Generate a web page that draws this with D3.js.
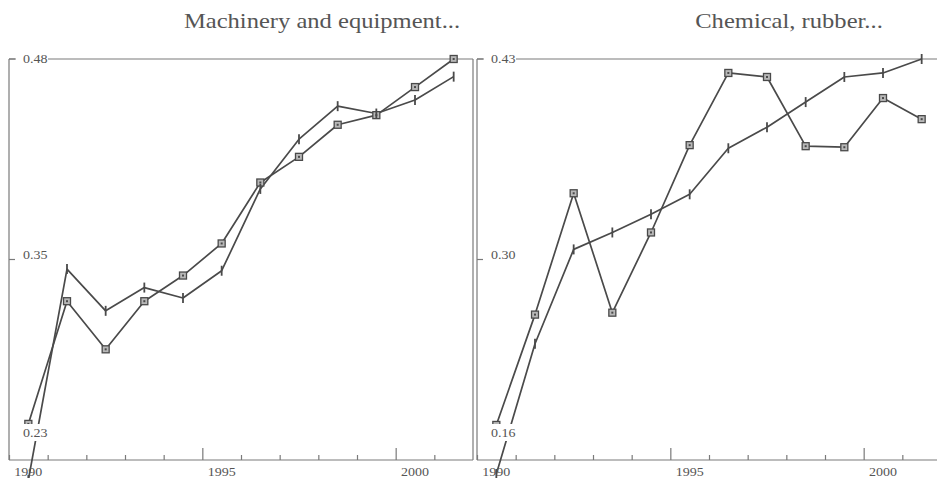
<!DOCTYPE html>
<html>
<head>
<meta charset="utf-8">
<script src="https://cdn.jsdelivr.net/npm/d3@7"></script>
<style>
  body { margin: 0; background: #fff; }
  svg { display: block; }
  text { font-family: "Liberation Serif", "DejaVu Serif", serif; fill: #555; }
</style>
</head>
<body>
<svg id="chart" width="937" height="478"></svg>
<script>
// Annual shares, 1990-2001
const years = [1990, 1991, 1992, 1993, 1994, 1995, 1996, 1997, 1998, 1999, 2000, 2001];
const yearLabels = [1990, 1995, 2000];
const majorYears = [1995, 2000];

const machinerySquares = [0.2525, 0.329, 0.299, 0.329, 0.345, 0.365, 0.403, 0.419, 0.439, 0.445, 0.4625, 0.48];
const machineryCrosses = [0.2175, 0.349, 0.323, 0.3375, 0.331, 0.348, 0.399, 0.430, 0.4506, 0.446, 0.4544, 0.469];
const chemicalSquares = [0.1836, 0.2579, 0.3396, 0.2592, 0.3132, 0.372, 0.4206, 0.4179, 0.3713, 0.3706, 0.4037, 0.3895];
const chemicalCrosses = [0.1506, 0.2383, 0.3018, 0.3132, 0.3254, 0.3389, 0.3699, 0.3841, 0.401, 0.4179, 0.4206, 0.43];

const machineryRange = [0.23, 0.48];
const chemicalRange = [0.16, 0.43];
const machineryTickLabels = ["0.48", "0.35", "0.23"];
const chemicalTickLabels = ["0.43", "0.30", "0.16"];
const panelTitles = ["Machinery and equipment...", "Chemical, rubber..."];

// Panel layout
const layout = [
  { left: 9, right: 473, titleX: 322, closeRight: true },
  { left: 477, right: 941, titleX: 789, closeRight: false }
];
const plotTop = 59, plotBottom = 460;
const stretch = 1.17;

const panels = [
  { title: panelTitles[0], range: machineryRange, labels: machineryTickLabels,
    squares: machinerySquares, crosses: machineryCrosses },
  { title: panelTitles[1], range: chemicalRange, labels: chemicalTickLabels,
    squares: chemicalSquares, crosses: chemicalCrosses }
];

const svg = d3.select("#chart");
const frameColor = "#7a7a7a";
const inkColor = "#4a4a4a";

function stretchedText(g, x, y, str, size, anchor) {
  return g.append("text")
    .attr("transform", `translate(${x},${y}) scale(${stretch},1)`)
    .attr("text-anchor", anchor || "start")
    .attr("font-size", size)
    .text(str);
}

panels.forEach((p, i) => {
  const L = layout[i];
  const g = svg.append("g");

  const x = d3.scaleLinear().domain([1990, 2002]).range([L.left, L.right]);
  const y = d3.scaleLinear().domain(p.range).range([plotBottom, plotTop]);
  const mid = (p.range[0] + p.range[1]) / 2;
  const step = x(1991) - x(1990);

  // title
  stretchedText(g, L.titleX, 28, p.title, 21, "middle");

  // frame
  g.append("line").attr("x1", L.left).attr("x2", L.left)
    .attr("y1", y(p.range[1])).attr("y2", plotBottom)
    .attr("stroke", frameColor).attr("stroke-width", 1.2);
  g.append("line").attr("x1", L.left).attr("x2", L.right)
    .attr("y1", y(p.range[1])).attr("y2", y(p.range[1]))
    .attr("stroke", frameColor).attr("stroke-width", 1.2);
  if (L.closeRight) {
    g.append("line").attr("x1", L.right).attr("x2", L.right)
      .attr("y1", y(p.range[1])).attr("y2", plotBottom)
      .attr("stroke", frameColor).attr("stroke-width", 1.2);
  }

  // bottom axis with upward year ticks
  const axis = d3.axisBottom(x)
    .tickValues(years)
    .tickSizeInner(-5)
    .tickSizeOuter(0)
    .tickFormat("");
  const ax = g.append("g").attr("transform", `translate(0,${plotBottom})`).call(axis);
  ax.select(".domain").attr("stroke", frameColor).attr("stroke-width", 1.2)
    .attr("d", `M${L.left},0H${L.right}`);
  ax.selectAll(".tick line").attr("stroke", frameColor).attr("stroke-width", 1.2)
    .attr("y2", d => majorYears.includes(d) ? -12 : -5);

  // y tick marks at max and mid
  [p.range[1], mid].forEach(v => {
    g.append("line").attr("x1", L.left).attr("x2", L.left + 6)
      .attr("y1", y(v)).attr("y2", y(v))
      .attr("stroke", frameColor).attr("stroke-width", 1.2);
  });

  // series lines
  const line = d3.line().x((d, k) => x(years[k] + 0.5)).y(d => y(d));
  [p.squares, p.crosses].forEach(s => {
    g.append("path").datum(s).attr("d", line)
      .attr("fill", "none").attr("stroke", inkColor)
      .attr("stroke-width", 1.7).attr("stroke-linejoin", "round");
  });

  // square markers
  g.selectAll(".sq").data(p.squares).enter().append("rect")
    .attr("x", (d, k) => x(years[k] + 0.5) - 3.5)
    .attr("y", d => y(d) - 3.5)
    .attr("width", 7).attr("height", 7)
    .attr("fill", "#b8b8b8").attr("stroke", inkColor).attr("stroke-width", 1.3);
  g.selectAll(".sqdot").data(p.squares).enter().append("rect")
    .attr("x", (d, k) => x(years[k] + 0.5) - 1)
    .attr("y", d => y(d) - 1)
    .attr("width", 2).attr("height", 2)
    .attr("fill", inkColor);

  // cross markers
  g.selectAll(".cr").data(p.crosses).enter().append("line")
    .attr("x1", (d, k) => x(years[k] + 0.5))
    .attr("x2", (d, k) => x(years[k] + 0.5))
    .attr("y1", d => y(d) - 5).attr("y2", d => y(d) + 5)
    .attr("stroke", inkColor).attr("stroke-width", 1.8);

  // y labels with knocked-out background
  const yLabelPos = [y(p.range[1]) + 4, y(mid) - 1, plotBottom - 23];
  p.labels.forEach((lab, k) => {
    g.append("rect")
      .attr("x", L.left + 7).attr("y", yLabelPos[k] - 13)
      .attr("width", 32).attr("height", 17).attr("fill", "#fff");
    stretchedText(g, L.left + 14, yLabelPos[k], lab, 12, "start");
  });

  // year labels centred within the year
  yearLabels.forEach(yr => {
    stretchedText(g, x(yr + 0.5), 476, String(yr), 12, "middle");
  });
});
</script>
</body>
</html>
